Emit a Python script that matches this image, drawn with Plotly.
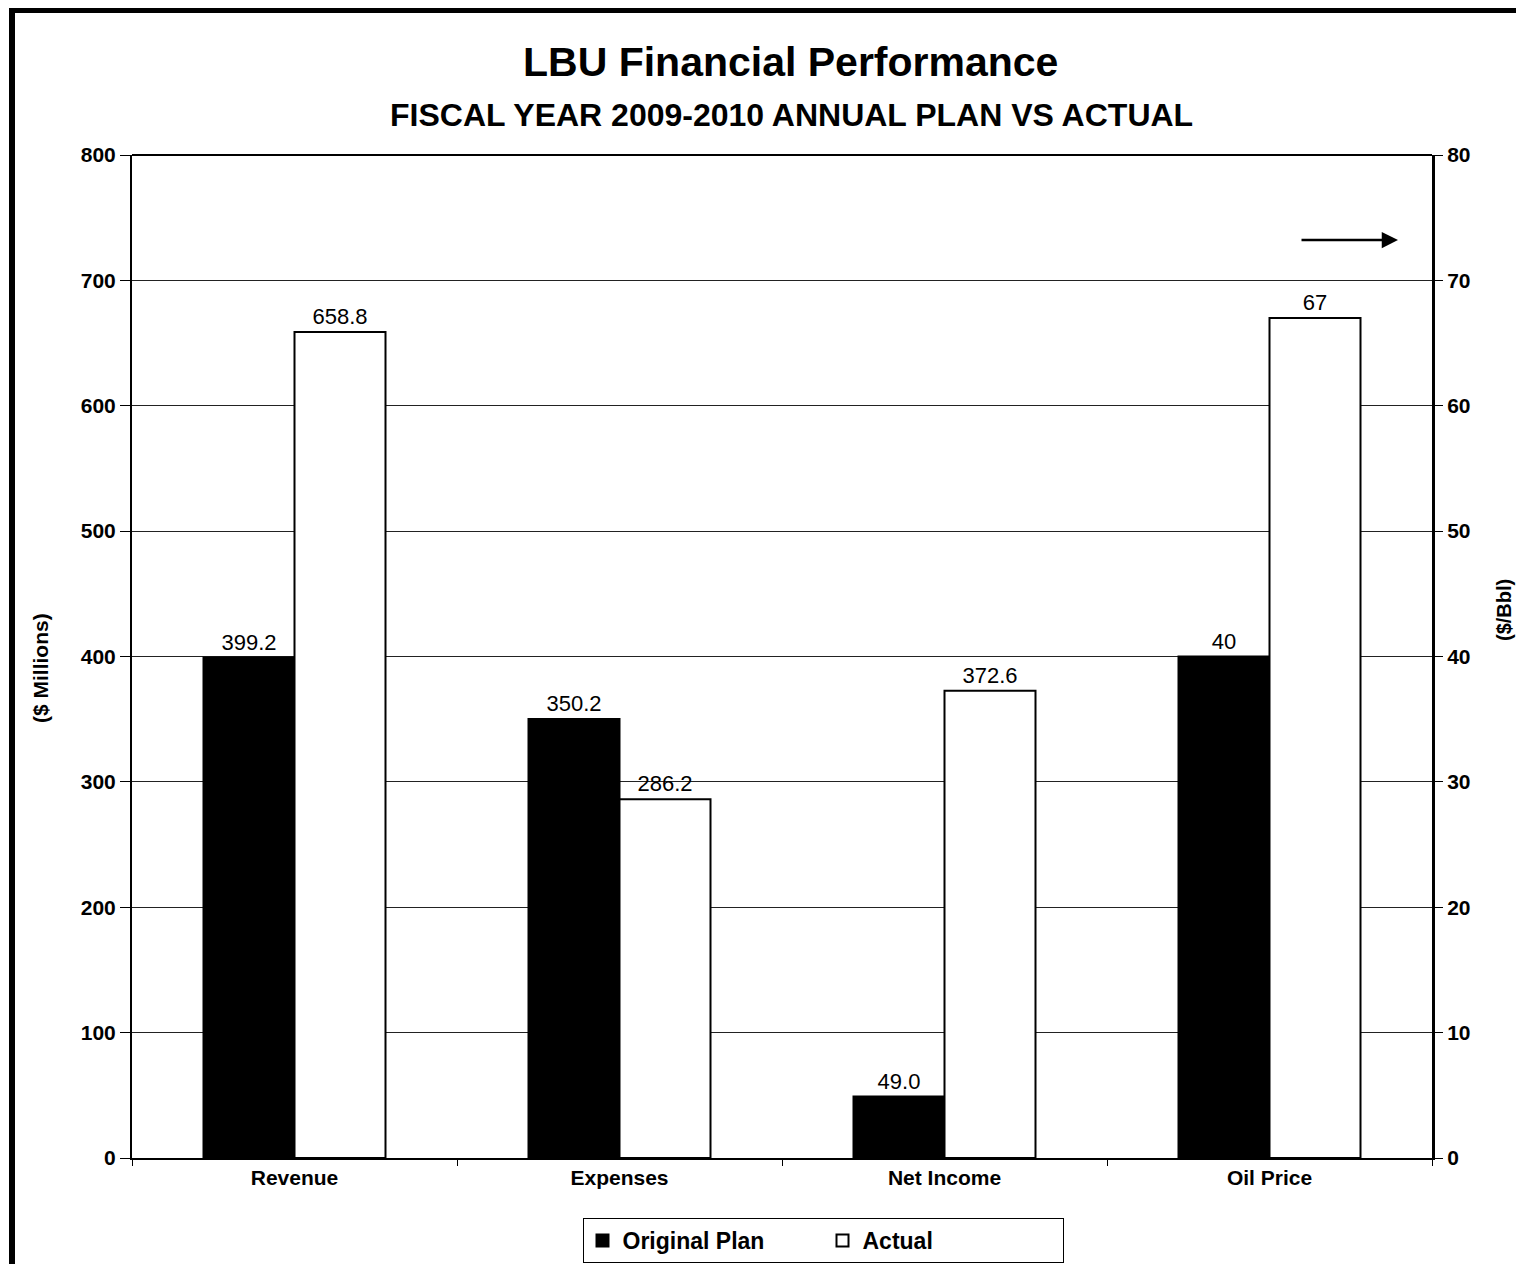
import plotly.graph_objects as go

categories = ["Revenue", "Expenses", "Net Income"]
plan_values = [399.2, 350.2, 49.0]
actual_values = [658.8, 286.2, 372.6]
plan_labels = ["399.2", "350.2", "49.0"]
actual_labels = ["658.8", "286.2", "372.6"]

oil_category = ["Oil Price"]
oil_plan = [40]
oil_actual = [67]
oil_plan_labels = ["40"]
oil_actual_labels = ["67"]

all_categories = categories + oil_category

# page is 1524x1272 with an 8px body margin around the figure
PAGE_W, PAGE_H, OFF = 1524, 1272, 8
W, H = PAGE_W - 2 * OFF, PAGE_H - 2 * OFF
L, R, T, B = 132, 1432, 155, 1158  # plot area in page pixels

def px(x):
    return (x - L) / (R - L)

def py(y):
    return (B - y) / (B - T)

def cy(y):
    return (OFF + H - y) / H

font = "Arial, Liberation Sans, sans-serif"
lbl_font = dict(family=font, size=22, color="black")

fig = go.Figure()
fig.add_trace(go.Bar(x=categories, y=plan_values, name="<b>Original Plan</b>", offsetgroup="plan",
                     marker=dict(color="black", line=dict(color="black", width=2)),
                     text=plan_labels, textposition="outside", textfont=lbl_font,
                     cliponaxis=False, legendgroup="plan"))
fig.add_trace(go.Bar(x=categories, y=actual_values, name="<b>Actual</b>", offsetgroup="actual",
                     marker=dict(color="white", line=dict(color="black", width=2)),
                     text=actual_labels, textposition="outside", textfont=lbl_font,
                     cliponaxis=False, legendgroup="actual"))
fig.add_trace(go.Bar(x=oil_category, y=oil_plan, name="Original Plan", offsetgroup="plan",
                     yaxis="y2", showlegend=False,
                     marker=dict(color="black", line=dict(color="black", width=2)),
                     text=oil_plan_labels, textposition="outside", textfont=lbl_font,
                     cliponaxis=False, legendgroup="plan"))
fig.add_trace(go.Bar(x=oil_category, y=oil_actual, name="Actual", offsetgroup="actual",
                     yaxis="y2", showlegend=False,
                     marker=dict(color="white", line=dict(color="black", width=2)),
                     text=oil_actual_labels, textposition="outside", textfont=lbl_font,
                     cliponaxis=False, legendgroup="actual"))

fig.update_layout(
    width=W, height=H,
    margin=dict(l=L - OFF, r=PAGE_W - OFF - R, t=T - OFF, b=PAGE_H - OFF - B),
    paper_bgcolor="white", plot_bgcolor="white",
    barmode="group", bargap=0.44, bargroupgap=0.0,
    font=dict(family=font, color="black"),
    xaxis=dict(
        categoryorder="array", categoryarray=all_categories,
        showline=True, linecolor="black", linewidth=2,
        ticks="outside", tickson="boundaries", ticklen=6, tickcolor="black",
        tickfont=dict(family=font, size=21, color="black"),
        tickprefix="<b>", ticksuffix="</b>", automargin=False,
    ),
    yaxis=dict(
        range=[0, 800], dtick=100,
        showline=True, linecolor="black", linewidth=2, mirror=False,
        showgrid=True, gridcolor="#222222", gridwidth=1,
        ticks="outside", ticklen=10, tickcolor="black",
        tickfont=dict(family=font, size=21, color="black"),
        tickprefix="<b>", ticksuffix="</b>",
        zeroline=False, automargin=False,
    ),
    yaxis2=dict(
        range=[0, 80], dtick=10, overlaying="y", side="right",
        showline=True, linecolor="black", linewidth=3,
        showgrid=False, ticks="outside", ticklen=8, tickcolor="black",
        tickfont=dict(family=font, size=21, color="black"),
        tickprefix="<b>", ticksuffix="</b>",
        zeroline=False, automargin=False,
    ),
    legend=dict(
        orientation="h", x=px(823), xanchor="center",
        yref="container", y=cy(1263), yanchor="bottom",
        bordercolor="black", borderwidth=1, bgcolor="white",
        font=dict(family=font, size=23, color="black"),
        itemwidth=30, entrywidth=195, tracegroupgap=0,
    ),
    showlegend=True,
)

# titles
fig.add_annotation(xref="paper", yref="paper", x=px(790), y=py(62), text="<b>LBU Financial Performance</b>",
                   showarrow=False, xanchor="center", yanchor="middle",
                   font=dict(family=font, size=41, color="black"))
fig.add_annotation(xref="paper", yref="paper", x=px(791), y=py(115),
                   text="<b>FISCAL YEAR 2009-2010 ANNUAL PLAN VS ACTUAL</b>",
                   showarrow=False, xanchor="center", yanchor="middle",
                   font=dict(family=font, size=32, color="black"))
# axis titles
fig.add_annotation(xref="paper", yref="paper", x=px(40), y=py(668), text="<b>($ Millions)</b>",
                   showarrow=False, textangle=-90, xanchor="center", yanchor="middle",
                   font=dict(family=font, size=21, color="black"))
fig.add_annotation(xref="paper", yref="paper", x=px(1504), y=py(610), text="<b>($/Bbl)</b>",
                   showarrow=False, textangle=-90, xanchor="center", yanchor="middle",
                   font=dict(family=font, size=20, color="black"))

# top border of plot area
fig.add_shape(type="line", xref="paper", yref="paper", x0=0, x1=1, y0=1, y1=1,
              line=dict(color="black", width=2))
# outer frame
fig.add_shape(type="rect", xref="paper", yref="paper",
              x0=px(12), x1=px(1519), y0=py(1290), y1=py(10),
              line=dict(color="black", width=6), layer="above")
# arrow pointing to the secondary axis
fig.add_annotation(xref="paper", yref="paper", x=px(1398), y=py(240),
                   ax=-98, ay=0, axref="pixel", ayref="pixel",
                   text="", showarrow=True, arrowhead=2, arrowsize=1.3, arrowwidth=2.5,
                   arrowcolor="black")

fig.write_html("out.html")
